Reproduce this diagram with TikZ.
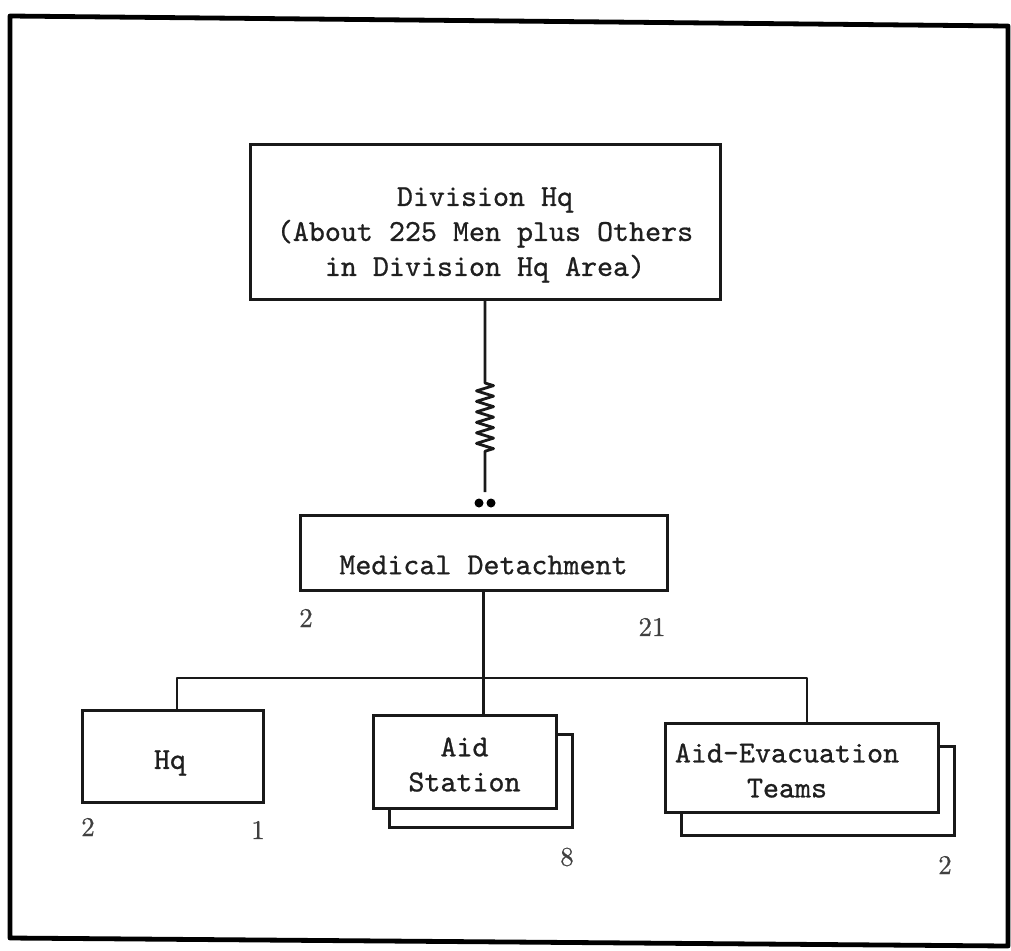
\documentclass[tikz,border=0pt]{standalone}
\usepackage{fontspec}
\usetikzlibrary{decorations.pathmorphing}
\newfontfamily\typer{lmmono10-regular.otf}[FakeBold=0.8]
\newfontfamily\numfont{lmroman10-regular.otf}[FakeBold=0.6]
\begin{document}
\begin{tikzpicture}[x=1pt,y=-1pt,
  boxline/.style={draw=black!90,line width=3pt,fill=white,inner sep=0pt,rectangle},
  boxtext/.style={font=\typer\fontsize{30.5}{35}\selectfont,text=black!88,align=center,inner sep=0pt},
  count/.style={font=\numfont\fontsize{27}{30}\selectfont,text=black!75,inner sep=0pt},
  wire/.style={draw=black!90,line width=2.8pt},
  dotmark/.style={circle,fill=black,inner sep=0pt,minimum size=9pt}]
  \useasboundingbox (0,0) rectangle (1011,950);
  % outer frame
  \draw[black,line width=4.8pt,line join=round] (10,16) -- (1008,26) -- (1008,946) -- (10,938) -- cycle;

  % division headquarters
  \node[boxline,minimum width=470pt,minimum height=155pt] (top) at (485,222) {};
  \node[boxtext] (toptxt) at (485,235) {Division Hq\\(About 225 Men plus Others\\in Division Hq Area)};

  % spring link and terminal dots
  \coordinate (springend) at (485,492);
  \draw[wire,line join=round,decorate,decoration={zigzag,segment length=10.5pt,amplitude=8.5pt,pre length=82pt,post length=39pt}]
    (top.south) -- (springend);
  \node[dotmark] (dotL) at (479,503) {};
  \node[dotmark] (dotR) at (491,503) {};

  % medical detachment
  \node[boxline,minimum width=367pt,minimum height=75pt] (med) at (483.5,552.5) {};
  \node[boxtext] (medtxt) at (483.5,565) {Medical Detachment};
  \node[count] (medL) at (306,618) {2};
  \node[count] (medR) at (652,627) {21};

  % branching bus
  \coordinate (busL) at (177,678);
  \coordinate (busR) at (807,678);
  \coordinate (busM) at (med.south |- busL);

  % stacked boxes (back sheets first)
  \node[boxline,minimum width=183pt,minimum height=93pt] (aidback) at (480.5,780.5) {};
  \node[boxline,minimum width=273pt,minimum height=89pt] (evacback) at (817.5,790.5) {};

  \node[boxline,minimum width=181pt,minimum height=92pt] (hq) at (172.5,756) {};
  \node[boxtext] (hqtxt) at (170,763) {Hq};
  \node[count] (hqL) at (88,827) {2};
  \node[count] (hqR) at (258,830) {1};

  \node[boxline,minimum width=183pt,minimum height=93pt] (aid) at (464.5,761.5) {};
  \node[boxtext] (aidtxt) at (464.5,764.5) {Aid\\Station};
  \node[count] (aidN) at (567,857) {8};

  \node[boxline,minimum width=273pt,minimum height=89pt] (evac) at (801.5,767.5) {};
  \node[boxtext] (evactxt) at (787,770.5) {Aid-Evacuation\\Teams};
  \node[count] (evacN) at (945,865) {2};

  % connectors
  \draw[wire] (med.south) -- (busM);
  \draw[wire,line join=round] (hq.north -| busL) -- (busL) -- (busR) -- (evac.north -| busR);
  \draw[wire] (busM) -- (aid.north -| busM);
\end{tikzpicture}
\end{document}
